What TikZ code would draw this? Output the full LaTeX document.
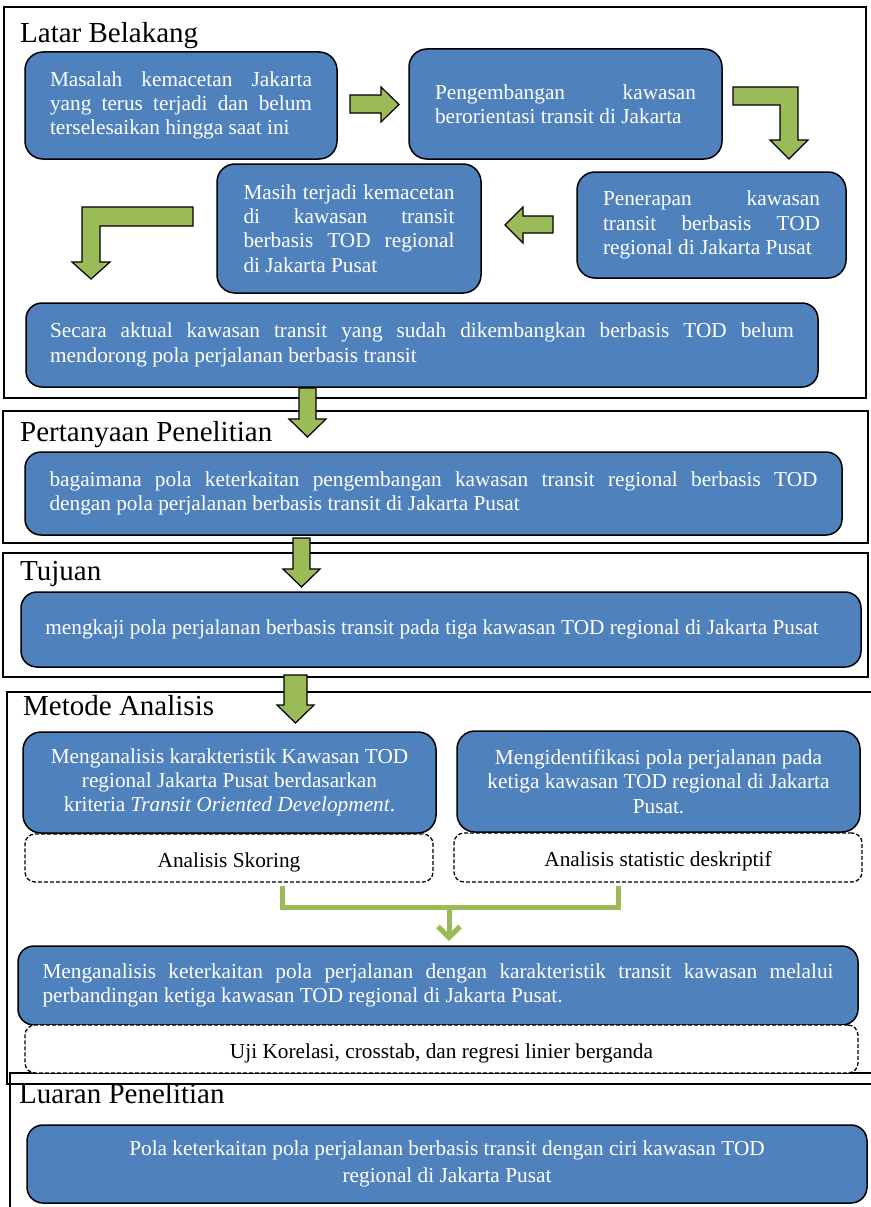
\documentclass[tikz,border=0pt]{standalone}
\usepackage{fontspec}
\setmainfont{Liberation Serif}
\usetikzlibrary{arrows.meta}
\definecolor{boxblue}{HTML}{4F81BD}
\definecolor{arrgreen}{HTML}{9BBB59}
\newcommand{\jl}[2]{\makebox[#1][s]{#2}}
\begin{document}
\begin{tikzpicture}[x=1pt,y=-1pt,
 sect/.style={draw=black, line width=1.4pt},
 bluebox/.style={draw=black, line width=1.5pt, fill=boxblue, rounded corners=18pt, text=white, align=left, inner sep=0pt, font=\fontsize{21.3pt}{24.3pt}\selectfont},
 dashbox/.style={draw=black, line width=1.3pt, dash pattern=on 4pt off 2pt, rounded corners=10pt, fill=white, inner sep=0pt, text height=18pt, text depth=0pt, font=\fontsize{21.3pt}{24.3pt}\selectfont},
 titletext/.style={anchor=base west, inner sep=0pt, font=\fontsize{29pt}{34pt}\selectfont},
 blockarrow/.style={draw=black, line width=1.2pt, fill=arrgreen, line join=miter},
 greenline/.style={draw=arrgreen, line width=5pt}
]
\useasboundingbox (0,0) rectangle (870,1207);
\fill[white] (0,0) rectangle (870,1207);

% section frames
\draw[sect] (4,7) rectangle (866,398);
\draw[sect] (3,411) rectangle (868,543);
\draw[sect] (3,553) rectangle (868,677);
\draw[sect] (871,692) -- (7,692) -- (7,1084) -- (871,1084);
\draw[sect] (871,1073) -- (10,1073) -- (10,1208);

% titles
\node[titletext] (t1) at (20,43) {Latar Belakang};
\node[titletext] (t2) at (20,441) {Pertanyaan Penelitian};
\node[titletext] (t3) at (20,580) {Tujuan};
\node[titletext] (t4) at (23,715) {Metode Analisis};
\node[titletext] (t5) at (19,1103) {Luaran Penelitian};

% Latar Belakang boxes
\node[bluebox, minimum width=312pt, minimum height=107pt] (b1) at (181,105.5)
 {\jl{262pt}{Masalah kemacetan Jakarta}\\\jl{262pt}{yang terus terjadi dan belum}\\terselesaikan hingga saat ini};
\node[bluebox, minimum width=313pt, minimum height=110pt] (b2) at (565.5,104)
 {\jl{261pt}{Pengembangan kawasan}\\berorientasi transit di Jakarta};
\node[bluebox, minimum width=269pt, minimum height=106pt] (b3) at (711.5,225)
 {\jl{217pt}{Penerapan kawasan}\\\jl{217pt}{transit berbasis TOD}\\regional di Jakarta Pusat};
\node[bluebox, minimum width=264pt, minimum height=129pt] (b4) at (349,228.5)
 {\jl{211pt}{Masih terjadi kemacetan}\\\jl{211pt}{di kawasan transit}\\\jl{211pt}{berbasis TOD regional}\\di Jakarta Pusat};
\node[bluebox, rounded corners=16pt, minimum width=792pt, minimum height=84pt] (b5) at (422,345)
 {\jl{744pt}{Secara aktual kawasan transit yang sudah dikembangkan berbasis TOD belum}\\mendorong pola perjalanan berbasis transit};

% Pertanyaan
\node[bluebox, rounded corners=16pt, minimum width=817pt, minimum height=83pt] (q) at (433.5,493.5)
 {\jl{768pt}{bagaimana pola keterkaitan pengembangan kawasan transit regional berbasis TOD}\\dengan pola perjalanan berbasis transit di Jakarta Pusat};

% Tujuan
\node[bluebox, rounded corners=16pt, align=center, minimum width=840pt, minimum height=75pt] (tj) at (441,629.5)
 {mengkaji pola perjalanan berbasis transit pada tiga kawasan TOD regional di Jakarta Pusat\hspace*{18pt}};

% Metode
\node[bluebox, align=center, minimum width=413pt, minimum height=101pt] (m1) at (229.5,782.5)
 {Menganalisis karakteristik Kawasan TOD\\regional Jakarta Pusat berdasarkan\\kriteria \textit{Transit Oriented Development}.};
\node[bluebox, align=center, minimum width=403pt, minimum height=101pt] (m2) at (658.5,781.5)
 {Mengidentifikasi pola perjalanan pada\\ketiga kawasan TOD regional di Jakarta\\Pusat.};
\node[dashbox, minimum width=408pt, minimum height=48pt] (d1) at (229,858) {Analisis Skoring};
\node[dashbox, minimum width=408pt, minimum height=49pt] (d2) at (658,857.5) {Analisis statistic deskriptif};

\node[bluebox, rounded corners=16pt, minimum width=840pt, minimum height=79pt] (m3) at (438,985.5)
 {\jl{791pt}{Menganalisis keterkaitan pola perjalanan dengan karakteristik transit kawasan melalui}\\perbandingan ketiga kawasan TOD regional di Jakarta Pusat.};
\node[dashbox, minimum width=833pt, minimum height=48pt] (d3) at (441.5,1049) {Uji Korelasi, crosstab, dan regresi linier berganda};

% Luaran
\node[bluebox, rounded corners=16pt, align=center, minimum width=840pt, minimum height=78pt, font=\fontsize{21.3pt}{26.5pt}\selectfont] (lr) at (447,1164)
 {Pola keterkaitan pola perjalanan berbasis transit dengan ciri kawasan TOD\\regional di Jakarta Pusat};

% green connector
\coordinate (gj) at (449,907);
\coordinate (gtip) at (449,941);
\draw[greenline] ([xshift=53pt,yshift=-3pt]d1.south) |- (gj) -| ([xshift=-40pt,yshift=-3pt]d2.south);
\draw[greenline, -{Straight Barb[length=11pt,width=22pt]}] (gj) -- (gtip);

% block arrows (Latar Belakang)
\draw[blockarrow] (350,95) -- (381,95) -- (381,87) -- (399,104.5) -- (381,122) -- (381,113) -- (350,113) -- cycle;
\draw[blockarrow] (733,87) -- (798,87) -- (798,140) -- (808,140) -- (789,159) -- (770,140) -- (780,140) -- (780,105) -- (733,105) -- cycle;
\draw[blockarrow] (553,216) -- (523,216) -- (523,207) -- (505,225) -- (523,243) -- (523,233) -- (553,233) -- cycle;
\draw[blockarrow] (193,207) -- (82,207) -- (82,262) -- (72,262) -- (91,279) -- (110,262) -- (100,262) -- (100,226) -- (193,226) -- cycle;

% block arrows between sections
\draw[blockarrow] (299,388) -- (316,388) -- (316,419) -- (326,419) -- (307.5,437) -- (289,419) -- (299,419) -- cycle;
\draw[blockarrow] (293,538) -- (310,538) -- (310,569) -- (320,569) -- (301.5,587) -- (283,569) -- (293,569) -- cycle;
\draw[blockarrow] (284,675) -- (307,675) -- (307,705) -- (314,705) -- (295.5,723) -- (277,705) -- (284,705) -- cycle;
\end{tikzpicture}
\end{document}
